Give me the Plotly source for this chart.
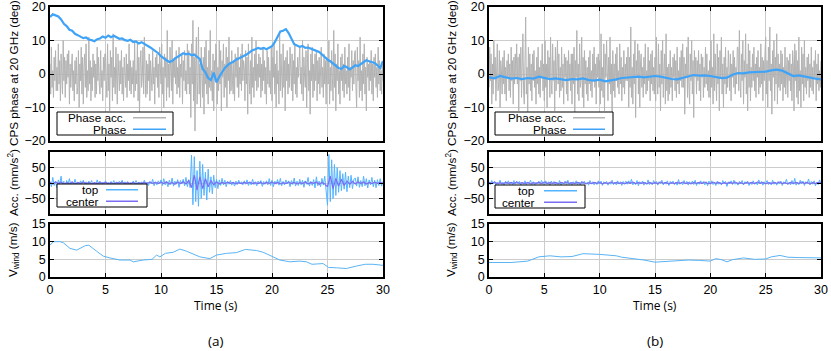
import numpy as np
import plotly.graph_objects as go

# ---- (a) CPS phase, 20 GHz ----
phase_acc_a = [3, -6, 8, -4, 1, -7, 5, -2, 7, -5, 2, -5, 9, -3, 4, -8, 6, -1, -6, 10,
               -2, 5, -7, 4, -3, 6, -1, 7, -9, 3, -4, 2, 6, -5, 1, -8, 4, -3, 5, -6,
               -4, 7, -10, 3, -2, 8, -6, 5, -9, 2, 6, -4, 9, -7, 1, -5, 11, -3, 4, -8,
               2, -5, 6, -1, 4, -7, 3, -6, 8, -2, 5, -3, -6, 7, -4, 1, -8, 5, -2, 6,
               6, -2, -7, 9, -5, 3, -11, 7, -1, 5, -8, 12, -4, 2, -6, 8, -3, -9, 6, -2,
               -5, 4, -3, 7, -6, 2, -8, 5, 1, -4, 6, -7, 3, -2, 9, -5, 4, -6, 2, -3,
               4, -7, 10, -5, 1, -3, 9, -8, 5, -12, 3, 7, -4, -1, 8, -6, 11, -2, -7, 4,
               -6, 3, -2, 6, -8, 4, 1, -5, 7, -3, 2, -9, 5, -1, 6, -4, 3, -7, 8, -2,
               -3, 9, -6, 2, -10, 6, -1, 5, -8, 13, -4, 3, -7, 8, -2, -5, 10, -9, 4, -1,
               5, -3, 7, -6, 2, -4, 8, -7, 3, -1, 6, -9, 4, -2, 7, -5, 1, -6, 9, -3,
               7, -6, 2, -13, 9, -3, 16, -8, 5, -17, 4, 11, -9, -2, 14, -6, 3, -10, 8, -4,
               -7, 5, -12, 8, -3, 10, -6, 2, -9, 7, -4, 13, -5, 1, -8, 6, -11, 4, -2, 9,
               6, -9, 2, -5, 10, -3, 7, -11, 4, -1, 9, -7, 3, -4, 8, -10, 5, -2, 11, -6,
               3, -5, 7, -2, -6, 4, -8, 6, -1, 5, -4, 8, -7, 2, -3, 6, -5, 9, -2, 4,
               2, -8, 7, -3, 5, -12, 9, -1, -6, 4, -9, 11, -4, 2, -7, 6, -2, 10, -5, 3,
               -4, 6, -1, 5, -7, 3, -5, 8, -2, 4, -6, 2, -9, 7, -3, 5, -4, 1, -6, 8,
               -8, 5, -1, 9, -6, 3, -10, 7, -3, 1, -9, 12, -5, 6, -2, -7, 9, -4, 4, -11,
               5, -2, 7, -6, 3, -4, 8, -1, -5, 6, -8, 4, -3, 9, -6, 2, -7, 5, -1, 3,
               8, -3, 2, -6, 10, -8, 5, -1, -4, 7, -10, 3, 9, -5, 1, -12, 6, -2, 8, -7,
               3, -5, 6, -2, 7, -8, 4, -3, 5, -6, 1, 8, -4, 2, -7, 6, -3, 4, -9, 5,
               4, -3, 10, -9, 2, -5, 7, -1, -8, 13, -4, 6, -11, 3, -2, 9, -6, 1, -9, 5,
               -2, 6, -5, 3, -7, 8, -3, 1, -6, 5, -4, 9, -8, 2, -1, 7, -5, 4, -3, 6,
               7, -4, -10, 8, -2, 4, -7, 11, -5, 1, -8, 6, -3, 9, -6, 2, -11, 5, -1, 3,
               -5, 4, -2, 7, -6, 3, -8, 5, -1, 6, -4, 2, -7, 8, -3, 4, -5, 1, -6, 3, -2]
phase_a = [17.0, 17.8, 17.5, 17.2, 16.3, 15.0, 14.3, 13.2, 12.9, 12.0, 11.6, 11.2, 10.7, 10.9, 10.3, 10.1,
           9.8, 10.4, 10.6, 11.2, 10.8, 11.5, 11.0, 11.4, 10.9, 10.5, 10.6, 10.1, 9.9, 10.2, 9.5, 9.7,
           9.1, 9.5, 9.0, 8.6, 8.0, 7.4, 6.8, 6.2, 5.3, 4.6, 4.1, 3.6, 3.9, 4.6, 5.2, 5.8,
           6.2, 5.9, 6.1, 5.6, 5.8, 5.1, 4.5, 1.5, 0.5, -1.2, -1.8, 0.4, -2.5, -0.8, 0.6, 1.8,
           2.6, 3.3, 3.6, 4.3, 4.6, 5.0, 5.6, 5.9, 6.5, 7.1, 7.4, 7.8, 7.5, 7.8, 7.4, 7.9,
           8.3, 9.5, 11.2, 12.7, 12.9, 13.4, 12.2, 10.3, 8.9, 8.5, 8.1, 8.4, 7.8, 7.9, 7.5, 7.2,
           6.9, 6.6, 5.8, 5.1, 4.3, 3.8, 3.1, 2.5, 1.8, 1.5, 2.4, 2.0, 1.4, 1.9, 2.6, 2.4,
           2.9, 3.6, 4.1, 3.8, 3.5, 3.3, 2.6, 1.8, 3.9]

# ---- (a) accelerations ----
acc_top_a = [5, -12, 18, -8, 3, -15, 10, -4, 22, -10, 6, -20, 8, -3, 14, -9, 4, -6, 12, -5,
             3, -10, 7, -2, 9, -6, 4, -11, 6, -3, 8, -7, 2, -5, 10, -4, 6, -8, 3, -2,
             7, -5, 2, -9, 5, -3, 8, -6, 3, -4, 6, -2, 9, -7, 4, -3, 5, -8, 2, -4,
             6, -3, 8, -5, 2, -7, 4, -2, 9, -6, 3, -8, 5, -3, 12, -9, 4, -6, 7, -2,
             10, -8, 14, -6, 4, -12, 9, -5, 16, -10, 6, -4, 11, -14, 8, -3, 12, -9, 18, -12,
             10, -15, 90, -70, 85, -60, 40, -75, 70, -50, 60, -40, 35, -55, 45, -30, 20, -35, 25, -15,
             12, -18, 10, -8, 15, -6, 9, -12, 5, -4, 8, -7, 3, -10, 6, -5, 9, -3, 4, -6,
             7, -4, 10, -8, 3, -6, 12, -5, 4, -9, 6, -3, 8, -11, 5, -4, 7, -6, 14, -8,
             9, -12, 6, -4, 11, -7, 15, -9, 5, -6, 10, -3, 7, -12, 8, -5, 16, -10, 6, -8,
             12, -6, 9, -14, 7, -4, 18, -10, 5, -8, 11, -16, 20, -9, 6, -12, 15, -7, 22, -18,
             -72, 92, -60, 75, -50, 60, -40, 50, -30, 40, -25, 30, -20, 35, -28, 22, -15, 25, -18, 12,
             16, -10, 20, -14, 8, -12, 22, -9, 14, -16, 10, -6, 18, -12, 9, -15, 11, -8, 14, -10, 5]
acc_center_a = [2, -3, 4, -2, 3, -4, 1, -2, 3, -3, 2, -1, 3, -2, 2, -3, 1, -2, 2, -1,
                2, -2, 1, -3, 2, -1, 3, -2, 1, -2, 2, -3, 1, -1, 2, -2, 3, -1, 2, -2,
                3, -2, 4, -3, 2, -4, 3, -2, 4, -3, 8, -15, 25, -22, 20, -18, 14, -12, 8, -6,
                4, -3, 2, -2, 3, -1, 2, -3, 1, -2, 2, -1, 3, -2, 1, -2, 2, -3, 2, -1,
                3, -2, 2, -3, 1, -2, 3, -2, 2, -3, 1, -2, 4, -3, 2, -1, 3, -4, 2, -3,
                -12, 22, -18, 15, -10, 12, -8, 6, -4, 5, -3, 4, -2, 3, -3, 2, -2, 3, -1, 2, -1]

# ---- (a) wind speed ----
wind_t_a = [0, 0.3, 0.9, 1.2, 1.8, 2.4, 3.2, 3.5, 4.2, 4.8, 5.4, 6.3, 7.2, 7.5, 8.4, 9.2, 9.6, 9.9, 10.4,
            11.1, 11.7, 12.3, 13.5, 14.4, 15, 15.9, 16.8, 17.6, 18.6, 19.2, 20.1, 20.7, 21.6, 22.5, 23.1,
            23.6, 24.6, 25.1, 25.8, 26.7, 27.6, 28.4, 29.1, 30]
wind_a = [9.0, 10, 10, 9.7, 8.1, 7.6, 8.9, 9.0, 7.3, 5.9, 5.4, 4.8, 4.8, 4.3, 4.8, 5.0, 6.2, 5.7, 6.7,
          7.0, 7.9, 7.3, 5.7, 5.2, 6.2, 6.7, 6.9, 7.8, 7.5, 7.0, 5.7, 4.8, 4.3, 4.5, 4.3,
          3.6, 3.8, 2.7, 2.6, 2.4, 3.1, 3.6, 3.6, 3.3]

# ---- (b) CPS phase, 20 GHz ----
phase_acc_b = [-4, 8, -2, 6, -9, 3, -6, 10, -1, 5, -8, 2, 9, -5, -3, 7, -10, 4, 1, -6,
               5, -3, 7, -6, 2, -8, 4, -1, 6, -5, 3, -7, 8, -2, 4, -9, 5, -3, 6, -1,
               9, -3, 5, -11, 6, -2, 8, -7, 3, 12, -5, -9, 4, 17, -6, 2, -12, 8, -3, 6,
               -5, 3, -8, 6, -2, 7, -4, 1, -9, 5, -3, 8, -6, 2, -7, 4, -1, 9, -5, 3,
               -8, 10, -4, 3, -10, 7, -1, 5, -7, 11, -3, -6, 9, -2, 4, -11, 8, -5, 2, 10,
               -3, 6, -7, 2, -5, 8, -4, 3, -9, 6, -1, 5, -6, 4, -8, 7, -2, 3, -5, 6,
               -9, 6, -3, 8, -12, 4, -1, 13, -6, 3, -8, 9, -4, -2, 11, -7, 5, -10, 7, -3,
               4, -6, 2, -8, 5, -3, 7, -5, 1, -7, 6, -2, 8, -4, 3, -9, 5, -1, 6, -4,
               4, -9, 12, -5, 2, -7, 9, -11, 6, -1, 10, -4, -8, 5, -3, 11, -6, 3, -12, 7,
               -5, 3, -7, 6, -2, 8, -4, 1, -6, 9, -3, 5, -8, 2, -4, 7, -6, 3, -2, 5,
               -2, 8, -10, 5, -4, 14, -7, 2, -9, 6, -3, 10, -13, 4, -1, 9, -6, 7, -10, 3,
               6, -4, 2, -7, 5, -3, 9, -6, 1, -5, 8, -2, 4, -8, 6, -3, 7, -5, 2, -6,
               5, -8, 11, -2, -6, 9, -4, 3, -11, 7, -3, 10, -7, 1, 6, -9, 12, -5, 2, -8,
               3, -6, 7, -4, 2, -8, 5, -1, 6, -5, 4, -7, 8, -3, 1, -6, 5, -2, 7, -4,
               9, -4, 5, -12, 3, -1, 8, -7, 11, -3, -9, 6, -2, 10, -6, 4, -13, 7, -1, 5,
               -6, 4, -2, 7, -5, 3, -8, 6, -1, 5, -7, 2, -4, 8, -3, 6, -5, 1, -7, 4,
               -7, 10, -4, 2, -9, 12, -5, 6, -2, -8, 9, -3, 5, -11, 7, -1, 11, -6, 3, -10,
               5, -3, 8, -6, 2, -4, 7, -2, -5, 6, -8, 3, -1, 7, -4, 5, -6, 2, -3, 8,
               8, -5, 13, -3, -7, 6, -2, 10, -9, 4, -1, 12, -6, 3, -11, 9, -4, 7, -8, 2,
               -4, 6, -2, 8, -5, 3, -7, 5, -1, 7, -6, 2, -4, 9, -3, 5, -8, 4, -2, 6,
               11, -6, 4, -10, 8, -2, 14, -5, 3, -12, 7, -1, 10, -8, 5, -3, 12, -9, 6, -4,
               3, -5, 7, -3, 6, -8, 2, -4, 8, -6, 1, 5, -7, 4, -2, 6, -5, 3, -8, 7,
               3, -11, 9, -2, 7, -7, 4, -9, 11, -5, 1, -10, 8, -3, 6, -8, 10, -4, 2, -6,
               5, -2, 6, -7, 3, -4, 8, -5, 2, -6, 4, -1, 7, -8, 3, -3, 6, -5, 1, -4, 4]
phase_b = [-1.0, -1.3, -0.6, -1.0, -1.4, -1.2, -1.5, -1.2, -1.4, -0.8, -1.2, -1.5, -1.3, -1.6, -1.8, -1.5,
           -1.6, -1.3, -1.8, -2.0, -1.7, -2.2, -2.0, -1.6, -1.2, -1.0, -0.9, -0.8, -1.0, -0.7, -0.6, -0.8,
           -1.2, -1.5, -1.6, -1.2, -0.6, -0.3, -0.5, -0.4, -0.6, -0.8, -1.2, -1.1, -0.2, 0.3, 0.2, 0.5,
           0.6, 0.8, 0.7, 1.1, 1.3, 1.0, 0.2, -0.6, -0.4, -0.8, -1.2, -1.4, -1.6]

# ---- (b) accelerations ----
acc_top_b = [4, -6, 8, -3, 5, -7, 2, -5, 9, -4, 3, -8, 6, -2, 7, -5, 3, -6, 8, -4,
             6, -3, 5, -8, 2, -4, 7, -6, 3, -2, 9, -5, 4, -7, 2, -3, 6, -4, 8, -2,
             -5, 7, -3, 4, -8, 6, -2, 5, -6, 3, -4, 8, -7, 2, -3, 6, -5, 9, -4, 3,
             -6, 4, -2, 7, -5, 3, -8, 6, -3, 5, -4, 2, -7, 8, -2, 4, -6, 3, -5, 7,
             -3, 6, -8, 4, -2, 5, -7, 3, -4, 9, -5, 2, -6, 7, -3, 4, -8, 5, -2, 6,
             -4, 7, -3, 12, -6, 3, -5, 8, -9, 4, -2, 6, -7, 3, -4, 10, -5, 2, -6, 8,
             -3, 5, -7, 4, -2, 9, -6, 3, -4, 7, -8, 5, -2, 6, -5, 3, -7, 11, -4, 2,
             -6, 8, -3, 5, -7, 4, -2, 6, -5, 9, -8, 3, -4, 7, -2, 5, -6, 4, -9, 6,
             -3, 7, -5, 2, -8, 6, -4, 3, -6, 8, -2, 5, -11, 4, -3, 7, -5, 9, -4, 2,
             -7, 5, -3, 8, -6, 4, -2, 6, -8, 3, -5, 7, -4, 2, -6, 10, -3, 5, -7, 4,
             -2, 8, -5, 3, -6, 9, -4, 2, -7, 5, -3, 6, -8, 4, -2, 12, -5, 3, -6, 8,
             -4, 15, -7, 3, -5, 9, -3, 6, -8, 4, -2, 13, -6, 5, -4, 7, -9, 3, -5, 10, -3]
acc_center_b = [2, -1, 3, -2, 1, -3, 2, -1, 2, -2, 3, -1, 1, -2, 2, -3, 1, -1, 2, -2,
                3, -2, 1, -1, 2, -3, 2, -1, 3, -2, 1, -2, 2, -1, 3, -3, 1, -2, 2, -1,
                2, -3, 1, -2, 3, -1, 2, -2, 1, -3, 2, -1, 3, -2, 1, -1, 2, -3, 2, -2,
                1, -2, 3, -1, 2, -3, 1, -2, 2, -1, 3, -2, 1, -3, 2, -1, 2, -2, 3, -1,
                -2, 3, -1, 2, -3, 1, -2, 2, -1, 3, -2, 1, -3, 2, -1, 2, -2, 3, -1, 2,
                -3, 1, -2, 2, -1, 3, -2, 1, -3, 2, -1, 2, -2, 3, -1, 2, -3, 1, -2, 2, -1]

# ---- (b) wind speed ----
wind_t_b = [0, 2, 3.5, 4.2, 4.5, 5.5, 6.5, 7.5, 8.5, 10, 10.5, 11.5, 12, 13, 14, 15, 16, 17, 18, 19,
            20, 20.5, 21, 21.5, 22, 23, 24, 25, 25.5, 26.3, 27, 28, 29, 30]
wind_b = [4.1, 4.1, 4.5, 5.4, 5.7, 6.0, 5.7, 5.8, 6.6, 6.4, 6.3, 6.0, 5.6, 5.3, 4.8, 4.2, 4.4, 4.5, 4.8, 4.7,
          4.5, 5.2, 4.9, 4.3, 4.9, 5.4, 5.0, 5.1, 5.7, 6.1, 5.6, 5.5, 5.5, 5.4]

x_ticks = [0, 5, 10, 15, 20, 25, 30]

GRAY = '#b3b3b3'
BLUE = '#3fa3f8'
TOP = '#55b4ff'
CENTER = '#7b6cf4'
WIND = '#5ab4f5'
FONT = 'Liberation Sans'

W, H = 831, 351


def px(x):
    return x / W


def py(y):
    return 1 - y / H


def tt(vals):
    return np.linspace(0, 30, len(vals))


fig = go.Figure()

# panel numbering: 1-3 left column (a), 4-6 right column (b)
for col, (pacc, ph, at, ac, wt, wv) in enumerate([
        (phase_acc_a, phase_a, acc_top_a, acc_center_a, wind_t_a, wind_a),
        (phase_acc_b, phase_b, acc_top_b, acc_center_b, wind_t_b, wind_b)]):
    k = col * 3
    fig.add_trace(go.Scatter(x=tt(pacc), y=pacc, mode='lines', line=dict(color=GRAY, width=1),
                             xaxis=f'x{k + 1}', yaxis=f'y{k + 1}', showlegend=False))
    fig.add_trace(go.Scatter(x=tt(ph), y=ph, mode='lines', line=dict(color=BLUE, width=2.2),
                             xaxis=f'x{k + 1}', yaxis=f'y{k + 1}', showlegend=False))
    fig.add_trace(go.Scatter(x=tt(at), y=at, mode='lines', line=dict(color=TOP, width=1),
                             xaxis=f'x{k + 2}', yaxis=f'y{k + 2}', showlegend=False))
    fig.add_trace(go.Scatter(x=tt(ac), y=ac, mode='lines', line=dict(color=CENTER, width=1.2),
                             xaxis=f'x{k + 2}', yaxis=f'y{k + 2}', showlegend=False))
    fig.add_trace(go.Scatter(x=wt, y=wv, mode='lines', line=dict(color=WIND, width=1),
                             xaxis=f'x{k + 3}', yaxis=f'y{k + 3}', showlegend=False))

axis_common = dict(showgrid=True, gridcolor='#cccccc', gridwidth=1, zeroline=False,
                   showline=True, linecolor='black', linewidth=1.5, mirror='ticks',
                   ticks='inside', ticklen=4, tickwidth=1, tickcolor='black', automargin=False,
                   tickfont=dict(family=FONT, size=12.5, color='black'))

col_x = [(50, 383), (489, 821)]
row_y = [(7, 141), (152, 214), (224, 277)]
y_specs = [dict(range=[-20, 20], tickvals=[-20, -10, 0, 10, 20]),
           dict(range=[-100, 100], tickvals=[-50, 0, 50]),
           dict(range=[0, 15], tickvals=[0, 5, 10, 15])]

layout = {}
for col in range(2):
    for row in range(3):
        n = col * 3 + row + 1
        sfx = '' if n == 1 else str(n)
        layout[f'xaxis{sfx}'] = dict(axis_common, domain=[px(col_x[col][0]), px(col_x[col][1])],
                                     anchor=f'y{n}', range=[0, 30], tickvals=x_ticks,
                                     showticklabels=(row == 2))
        layout[f'yaxis{sfx}'] = dict(axis_common, domain=[py(row_y[row][1]), py(row_y[row][0])],
                                     anchor=f'x{n}', **y_specs[row])

fig.update_layout(**layout)

# axis titles and captions
ann = []
for col, xt in enumerate([13, 451]):
    ann.append(dict(text='CPS phase at 20 GHz (deg)', x=px(xt), y=py(73)))
    ann.append(dict(text='Acc. (mm/s<sup>2</sup>)', x=px(xt), y=py(183)))
    ann.append(dict(text='V<sub>wind</sub> (m/s)', x=px(xt), y=py(250)))
for a in ann:
    a.update(xref='paper', yref='paper', showarrow=False, textangle=-90,
             xanchor='center', yanchor='middle', font=dict(family=FONT, size=11.7, color='black'))

for cx, lab in [(216, '(a)'), (655, '(b)')]:
    ann.append(dict(text='Time (s)', x=px(cx), y=py(305), xref='paper', yref='paper', showarrow=False,
                    xanchor='center', yanchor='middle',
                    font=dict(family='Open Sans', size=12, color='black')))
    ann.append(dict(text=lab, x=px(cx), y=py(341), xref='paper', yref='paper', showarrow=False,
                    xanchor='center', yanchor='middle',
                    font=dict(family='Open Sans', size=13.5, color='black')))

# gnuplot-style keys: text right-aligned, sample line to its right
shapes = []
keys = [
    # box x0, x1, y0, y1, text right edge, sample x0, x1, entries
    (57, 173, 112, 135, 128, 133, 166, [('Phase acc.', GRAY, 1.5), ('Phase', BLUE, 1.5)]),
    (495, 613, 112, 135, 568, 573, 605, [('Phase acc.', GRAY, 1.5), ('Phase', BLUE, 1.5)]),
    (57, 147, 184, 207, 101, 106, 138, [('top', TOP, 1.5), ('center', CENTER, 1.5)]),
    (495, 585, 185, 208, 537, 544, 577, [('top', TOP, 1.5), ('center', CENTER, 1.5)]),
]
for bx0, bx1, by0, by1, tx, sx0, sx1, entries in keys:
    shapes.append(dict(type='rect', xref='paper', yref='paper', x0=px(bx0), x1=px(bx1),
                       y0=py(by1), y1=py(by0), line=dict(color='black', width=1),
                       fillcolor='white', layer='above'))
    rh = (by1 - by0) / 2
    for i, (name, color, lw) in enumerate(entries):
        yc = by0 + rh * (i + 0.5)
        ann.append(dict(text=name, x=px(tx), y=py(yc), xref='paper', yref='paper', showarrow=False,
                        xanchor='right', yanchor='middle', font=dict(family=FONT, size=11.7, color='black')))
        shapes.append(dict(type='line', xref='paper', yref='paper', x0=px(sx0), x1=px(sx1),
                           y0=py(yc), y1=py(yc), line=dict(color=color, width=lw), layer='above'))

fig.update_layout(
    width=W, height=H,
    margin=dict(l=0, r=0, t=0, b=0),
    paper_bgcolor='white', plot_bgcolor='white',
    showlegend=False,
    annotations=ann, shapes=shapes,
)

# drop the browser's default body margin so the figure sits at the window origin
fig.write_html("out.html", config={'displayModeBar': False},
               post_script="document.body.style.margin='0';")
